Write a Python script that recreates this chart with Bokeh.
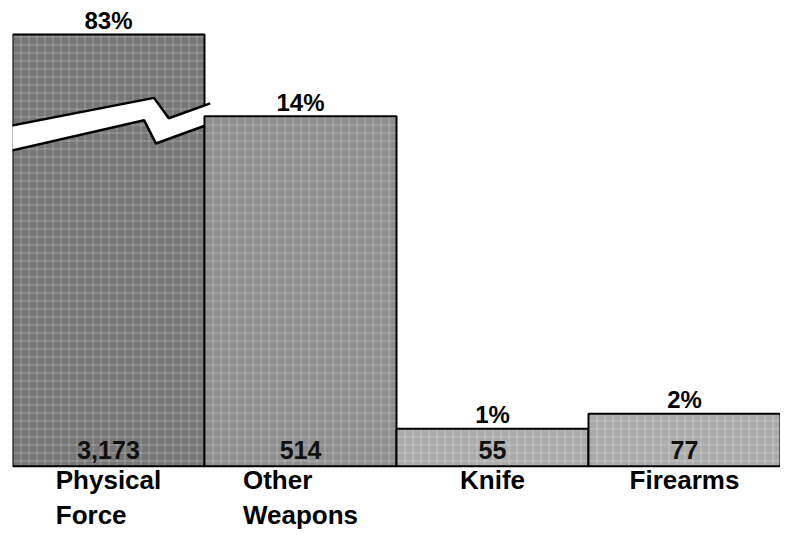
from bokeh.plotting import figure
from bokeh.models import Range1d, ColumnDataSource
from bokeh.embed import file_html
from bokeh.resources import INLINE
from bokeh.core.properties import value

# ---- data ----
categories = ["Physical Force", "Other Weapons", "Knife", "Firearms"]
counts = [3173, 514, 55, 77]
percents = ["83%", "14%", "1%", "2%"]
count_labels = ["3,173", "514", "55", "77"]
axis_labels = ["Physical\nForce", "Other\nWeapons", "Knife", "Firearms"]

# ---- style / layout ----
CAP = 634  # displayed height of the broken (truncated) bar
fills = ["#777777", "#8e8e8e", "#ababab", "#ababab"]
FONT = value("Liberation Sans")

xs = list(range(len(categories)))
shown = [min(c, CAP) for c in counts]

p = figure(width=780, height=532, x_range=Range1d(-0.5, 3.5), y_range=Range1d(-97.4, 684),
           output_backend="svg", toolbar_location=None,
           min_border_left=12, min_border_right=0, min_border_top=0, min_border_bottom=0)
p.axis.visible = False
p.grid.visible = False
p.outline_line_color = None
p.background_fill_color = "white"

def bar(i):
    p.quad(left=xs[i] - 0.5, right=xs[i] + 0.5, bottom=0, top=shown[i],
           fill_color=fills[i], line_color="black", line_width=2,
           hatch_pattern="+", hatch_color="white", hatch_alpha=0.28,
           hatch_scale=8, hatch_weight=1)

# broken bar first
bar(0)
# break band across the first bar
x0 = xs[0]
up = [(x0 - 0.53, 499), (x0 + 0.237, 541), (x0 + 0.314, 511), (x0 + 0.53, 533)]
lo = [(x0 + 0.53, 503), (x0 + 0.247, 474), (x0 + 0.186, 508), (x0 - 0.53, 462)]
band = up + lo
p.patch([a for a, b in band], [b for a, b in band], fill_color="white", line_color=None)
p.multi_line([[a for a, b in up], [a for a, b in lo]], [[b for a, b in up], [b for a, b in lo]],
             line_color="black", line_width=2.5)
for i in range(1, len(categories)):
    bar(i)

src = ColumnDataSource(dict(x=xs, top=shown, pct=percents, cnt=count_labels, lab=axis_labels))

p.text(x="x", y="top", text="pct", source=src, text_align="center", text_baseline="middle",
       y_offset=-14, text_font=FONT, text_font_style="bold", text_font_size="24px", text_color="black")
p.text(x="x", y=0, text="cnt", source=src, text_align="center", text_baseline="middle",
       y_offset=-16, text_font=FONT, text_font_style="bold", text_font_size="25px", text_color="#111111")
p.text(x="x", y=0, text="lab", source=src, text_align="left", anchor="top_center",
       text_baseline="top", y_offset=-1, text_line_height=1.15,
       text_font=FONT, text_font_style="bold", text_font_size="26px", text_color="black")

open("out.html", "w").write(file_html(p, INLINE))
